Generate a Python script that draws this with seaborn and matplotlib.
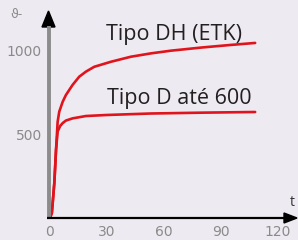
import numpy as np
import pandas as pd
import matplotlib
matplotlib.use("Agg")
import matplotlib.pyplot as plt
import seaborn as sns

# curve values (time in min, temperature)
t_dh = [0, 1.0, 2.3, 3.2, 4.05, 4.9, 6.7, 8.4, 11.9, 15.4, 18.9, 23.3,
        32.1, 42.6, 53.2, 63.7, 80, 95, 108]
v_dh = [0, 30, 208, 405, 573, 633, 692, 732, 792, 841, 871, 900,
        930, 960, 980, 996, 1015, 1030, 1042]
t_d = [0, 1.0, 2.3, 3.2, 4.05, 5.4, 6.7, 8.4, 11.9, 18.9, 29.5, 53, 80, 108]
v_d = [0, 30, 208, 405, 515, 548, 565, 580, 593, 607, 613, 622, 627, 631]

x_ticks = [0, 30, 60, 90, 120]
y_ticks = [500, 1000]
labels = ["Tipo DH (ETK)", "Tipo D até 600"]

df = pd.concat([
    pd.DataFrame({"t": t_dh, "v": v_dh, "curve": labels[0]}),
    pd.DataFrame({"t": t_d, "v": v_d, "curve": labels[1]}),
])

sns.set_theme(style="white")
plt.rcParams["font.family"] = ["Open Sans", "DejaVu Sans"]

bg = "#eeeaf1"
red = "#e0141c"
W, H = 298, 240
fig = plt.figure(figsize=(W / 100, H / 100), dpi=100, facecolor=bg)
# axes box in pixels: x 49..298, y 10..218
ax = fig.add_axes([49 / W, 22 / H, 249 / W, 208 / H], facecolor=bg)

sns.lineplot(data=df, x="t", y="v", hue="curve", palette=[red, red],
             linewidth=1.9, legend=False, ax=ax, sort=False)

ax.set_xlim(-0.5, 249 / 1.9 - 0.5)
ax.set_ylim(0, 208 / 0.168)
for s in ax.spines.values():
    s.set_visible(False)

ax.set_xticks(x_ticks)
ax.set_xticklabels([str(x) for x in x_ticks])
ax.set_yticks(y_ticks)
ax.set_yticklabels([str(y) for y in y_ticks])
ax.tick_params(length=0, colors="#8a8a8a", labelsize=10, pad=5)
for lab in ax.get_xticklabels() + ax.get_yticklabels():
    lab.set_family("DejaVu Sans")
ax.set_xlabel("")
ax.set_ylabel("")


def px(x, y):
    # figure pixel -> axes fraction
    return (x - 49) / 249, (218 - y) / 208


# y axis: gray shaft, black head
ax.plot(*zip(px(48.5, 218), px(48.5, 26)), color="#8c8c8c", lw=2.8,
        transform=ax.transAxes, clip_on=False, solid_capstyle="butt")
ax.fill(*zip(px(42, 27), px(55, 27), px(48.5, 11)), color="black",
        transform=ax.transAxes, clip_on=False)
# x axis: black shaft and head
ax.plot(*zip(px(47, 218), px(286, 218)), color="black", lw=1.6,
        transform=ax.transAxes, clip_on=False, solid_capstyle="butt")
ax.fill(*zip(px(284, 213), px(284, 223), px(297, 218)), color="black",
        transform=ax.transAxes, clip_on=False)

ax.text(*px(106, 40), labels[0], transform=ax.transAxes, fontsize=15.5,
        color="#231f20", ha="left", va="baseline")
ax.text(*px(107, 104), labels[1], transform=ax.transAxes, fontsize=15.5,
        color="#231f20", ha="left", va="baseline")
fig.text(10 / W, 1 - 15 / H, "ϑ-", fontsize=9, color="#8a8a8a",
         family="DejaVu Sans", va="center")
fig.text(292 / W, 1 - 203 / H, "t", fontsize=10, color="#333333",
         ha="center", va="center")

fig.savefig("out.png", dpi=100, facecolor=bg)
